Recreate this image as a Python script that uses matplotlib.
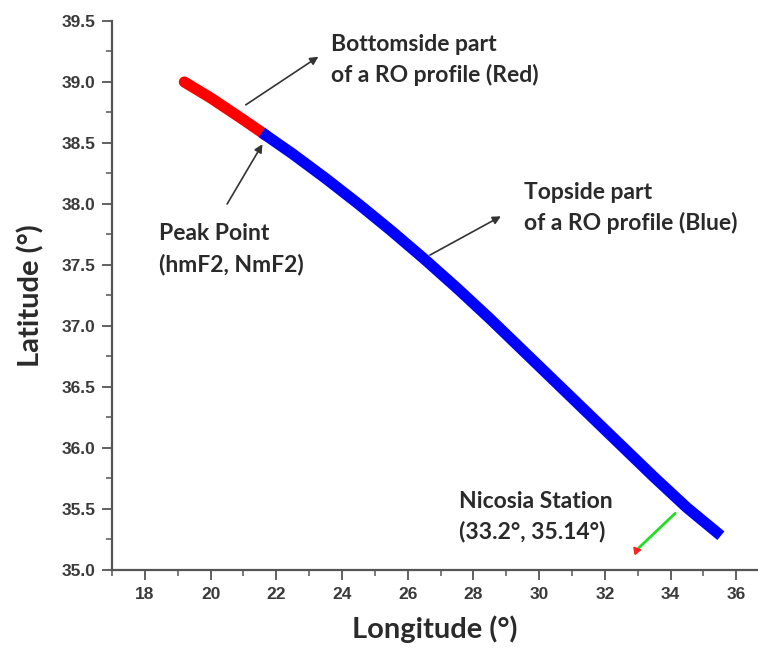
import matplotlib
matplotlib.use('Agg')
import matplotlib.pyplot as plt
from matplotlib.ticker import MultipleLocator, FormatStrFormatter

# bottomside (red) and topside (blue) parts of the RO profile track
red_lon = [19.2, 20.0, 21.0, 21.7]
red_lat = [39.00, 38.87, 38.69, 38.56]

blue_lon = [21.7, 22.5, 23.5, 24.5, 25.5, 26.5, 27.5, 28.5, 29.5,
            30.5, 31.5, 32.5, 33.5, 34.5, 35.4]
blue_lat = [38.56, 38.41, 38.21, 38.00, 37.78, 37.55, 37.31, 37.06, 36.80,
            36.54, 36.28, 36.02, 35.76, 35.51, 35.31]

# where the green pointer ends (station marker)
station_lon = 32.95
station_lat = 35.16

label_font = 'Lato'
tick_font = 'Liberation Sans'

fig = plt.figure(figsize=(7.58, 6.52), dpi=100)
ax = fig.add_axes([0.1478, 0.1258, 0.8522, 0.842])

ax.plot(red_lon, red_lat, color='#ff0000', lw=8, solid_capstyle='round', zorder=3)
ax.plot(blue_lon, blue_lat, color='#0000ff', lw=8, solid_capstyle='projecting', zorder=3)

ax.set_xlim(17, 36.66)
ax.set_ylim(35, 39.5)

for side in ['top', 'right']:
    ax.spines[side].set_visible(False)
for side in ['left', 'bottom']:
    ax.spines[side].set_color('#555555')
    ax.spines[side].set_linewidth(1.6)

ax.xaxis.set_major_locator(MultipleLocator(2))
ax.xaxis.set_minor_locator(MultipleLocator(1))
ax.yaxis.set_major_locator(MultipleLocator(0.5))
ax.yaxis.set_minor_locator(MultipleLocator(0.25))
ax.yaxis.set_major_formatter(FormatStrFormatter('%.1f'))
ax.set_xticks([t for t in range(18, 37, 2)])

ax.tick_params(which='major', direction='out', length=7, width=1.3, color='#555555',
               labelsize=12.5, labelcolor='#3a3a3a', pad=5)
ax.tick_params(which='minor', direction='out', length=4, width=1.1, color='#555555')
for lab in ax.get_xticklabels() + ax.get_yticklabels():
    lab.set_fontfamily(tick_font)
    lab.set_fontweight('bold')

ax.set_xlabel('Longitude (°)', fontfamily=label_font, fontweight='bold', fontsize=21,
              color='#2a2a2a', labelpad=10)
ax.set_ylabel('Latitude (°)', fontfamily=label_font, fontweight='bold', fontsize=21,
              color='#2a2a2a', labelpad=12)

arrow = dict(arrowstyle='-|>', color='#333333', lw=1.2, mutation_scale=12)
ax.annotate('', xy=(23.35, 39.22), xytext=(21.0, 38.8), arrowprops=arrow)
ax.annotate('', xy=(21.62, 38.51), xytext=(20.46, 37.98), arrowprops=arrow)
ax.annotate('', xy=(28.91, 37.91), xytext=(26.6, 37.57), arrowprops=arrow)

# green pointer to the station, red tip
ax.annotate('', xy=(station_lon, station_lat), xytext=(34.2, 35.48),
            arrowprops=dict(arrowstyle='-', color='#22dd22', lw=2))
ax.plot([station_lon], [station_lat], marker=(3, 0, 40), color='#ff2020',
        markersize=6, zorder=4, clip_on=False)

txt = dict(fontfamily=label_font, fontweight='bold', fontsize=16.5, color='#2a2a2a',
           va='center', ha='left', linespacing=1.5)
ax.text(23.66, 39.18, 'Bottomside part\nof a RO profile (Red)', **txt)
ax.text(29.54, 37.97, 'Topside part\nof a RO profile (Blue)', **txt)
ax.text(18.43, 37.63, 'Peak Point\n(hmF2, NmF2)', **txt)
ax.text(27.56, 35.44, 'Nicosia Station\n(33.2°, 35.14°)', **txt)

fig.savefig('out.png', dpi=100)
